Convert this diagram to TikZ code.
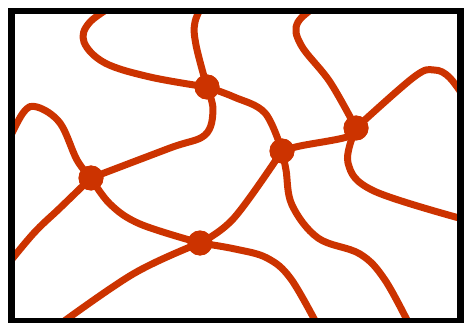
\documentclass[tikz,border=0pt]{standalone}
\usepackage{xcolor}
\definecolor{strandred}{RGB}{204,51,0}
\usepackage{tikz}
\usetikzlibrary{positioning}

\begin{document}
\begin{tikzpicture}[x=1pt, y=-1pt, every node/.style={circle, fill=strandred, inner sep=0pt, minimum size=25pt}]
  \useasboundingbox (0,0) rectangle (468,323);
  % crosslinks
  \node (xa) at (207,87) {};
  \node (xb) at (356,128) {};
  \node (xc) at (282,151) {};
  \node (xd) at (91,178) {};
  \node (xe) at (200,243) {};
  % loose ends, outside the frame
  \coordinate (t1) at (122,0);
  \coordinate (t2) at (205,0);
  \coordinate (t3) at (325,0);
  \coordinate (r1) at (470,106);
  \coordinate (r2) at (470,221);
  \coordinate (b1) at (412,330);
  \coordinate (b2) at (320,330);
  \coordinate (b3) at (52,330);
  \coordinate (l1) at (0,274);
  \coordinate (l2) at (4,150);
  \begin{scope}
    \clip (11.5,11) rectangle (460.5,321);
    \begin{scope}[strandred, line width=7pt, line cap=round, line join=round]
      \draw plot[smooth, tension=0.6] coordinates {(t1) (90,22) (84,42) (105,63) (150,77) (xa)};
      \draw plot[smooth, tension=0.6] coordinates {(t2) (195,22) (196,45) (xa)};
      \draw plot[smooth, tension=0.6] coordinates {(xa) (213,110) (205,135) (170,148) (xd)};
      \draw plot[smooth, tension=0.6] coordinates {(xa) (234,97) (265,113) (xc)};
      \draw plot[smooth, tension=0.6] coordinates {(xc) (300,146) (347,137) (xb)};
      \draw plot[smooth, tension=0.6] coordinates {(t3) (298,22) (301,45) (330,82) (xb)};
      \draw plot[smooth, tension=0.6] coordinates {(xb) (414,77) (434,70) (450,78) (r1)};
      \draw plot[smooth, tension=0.6] coordinates {(xb) (348,163) (374,191) (r2)};
      \draw plot[smooth, tension=0.6] coordinates {(xc) (286,170) (292,205) (318,238) (360,254) (385,280) (b1)};
      \draw plot[smooth, tension=0.6] coordinates {(xe) (234,218) (xc)};
      \draw plot[smooth, tension=0.6] coordinates {(xe) (235,249) (267,258) (291,279) (b2)};
      \draw plot[smooth, tension=0.6] coordinates {(xe) (133,274) (b3)};
      \draw plot[smooth, tension=0.6] coordinates {(xd) (110,204) (140,224) (xe)};
      \draw plot[smooth, tension=0.6] coordinates {(xd) (60,208) (33,234) (l1)};
      \draw plot[smooth, tension=0.6] coordinates {(xd) (77,160) (60,123) (37,107) (23,113) (l2)};
    \end{scope}
  \end{scope}
  \node at (xa) {};
  \node at (xb) {};
  \node at (xc) {};
  \node at (xd) {};
  \node at (xe) {};
  \draw[line width=6.7pt] (11.5,11) rectangle (460.5,321);
\end{tikzpicture}
\end{document}
